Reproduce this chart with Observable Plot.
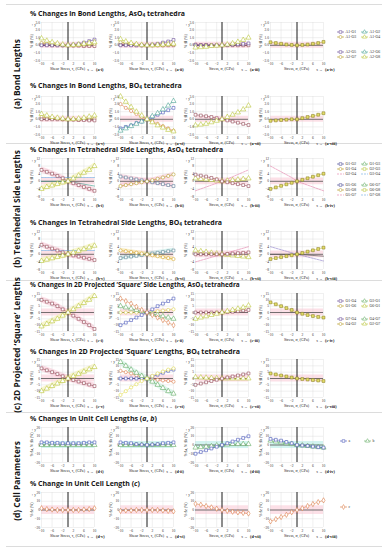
<!DOCTYPE html>
<html><head><meta charset="utf-8">
<script src="https://cdn.jsdelivr.net/npm/d3@7"></script>
<script src="https://cdn.jsdelivr.net/npm/@observablehq/plot@0.6"></script>
<style>
body{margin:0;background:#fff;}
#root{position:relative;width:387px;height:550px;overflow:hidden;font-family:"Open Sans",sans-serif;}
.title{position:absolute;font-weight:700;font-size:7.4px;white-space:nowrap;color:#151515;line-height:1;}
.title sub{font-size:0.68em;vertical-align:-0.15em;}
.sep{position:absolute;left:6px;width:376px;height:1px;background:#dcdcdc;}
.pan{position:absolute;}
</style></head>
<body><div id="root"></div>
<script>
// ---------- data ----------
const stress = [-10,-8,-6,-4,-2,0,2,4,6,8,10];
const sectionLabels = ["(a) Bond Lengths","(b) Tetrahedral Side Lengths","(c) 2D Projected \u2018Square\u2019 Lengths","(d) Cell Parameters"];
const rowTitles = [
 "% Changes in Bond Lengths, AsO<sub>4</sub> tetrahedra",
 "% Changes in Bond Lengths, BO<sub>4</sub> tetrahedra",
 "% Changes in Tetrahedral Side Lengths, AsO<sub>4</sub> tetrahedra",
 "% Changes in Tetrahedral Side Lengths, BO<sub>4</sub> tetrahedra",
 "% Changes in 2D Projected \u2018Square\u2019 Side Lengths, AsO<sub>4</sub> tetrahedra",
 "% Changes in 2D Projected \u2018Square\u2019 Lengths, BO<sub>4</sub> tetrahedra",
 "% Changes in Unit Cell Lengths (<i>a</i>, <i>b</i>)",
 "% Change in Unit Cell Length (<i>c</i>)"
];
const romans = ["i","ii","iii","iv","v","vi","vii","viii"];
const yTicksA = [-2,-1,0,1,2,3];
const yTicksB = [-8,-4,0,4,8,12];
const yTicksC = [-15,-10,-5,0,5,10,15];
const yTicksD = [-20,-10,0,10,20];
const xTicks = [-10,-6,-2,2,6,10];
const legA1 = ["A1-O1","A1-O2","A1-O3","A1-O4"];
const legA2 = ["A2-O5","A2-O6","A2-O7","A2-O8"];
const legB1 = ["O1-O2","O1-O3","O1-O4","O2-O3","O2-O4","O3-O4"];
const legB2 = ["O5-O6","O6-O7","O5-O8","O6-O8","O5-O7","O7-O8"];
const legC1 = ["O1-O4","O3-O1","O1-O6","O6-O1"];
const legC2 = ["O7-O4","O4-O7","O4-O2","O2-O7"];
const legD1 = ["a","b"];
const legD2 = ["c"];

// (a) bond lengths
const ai_1 = [0.0,0.0,0.0,0.0,0.0,0.0,0.1,0.2,0.35,0.55,0.75];
const ai_2 = [0.3,0.2,0.1,0.05,0.0,0.0,0.0,0.05,0.1,0.15,0.2];
const ai_3 = [0.05,0.05,0.0,0.0,0.0,0.0,-0.05,-0.05,-0.1,-0.1,-0.1];
const ai_4 = [0.9,0.6,0.4,0.25,0.1,0.0,0.05,0.1,0.2,0.3,0.4];
const aii_1 = [0.0,0.0,0.0,0.0,0.0,0.0,0.1,0.2,0.35,0.5,0.7];
const aii_2 = [0.4,0.3,0.2,0.1,0.0,0.0,0.0,0.0,0.0,0.05,0.1];
const aii_3 = [0.1,0.1,0.05,0.0,0.0,0.0,0.0,0.0,0.0,0.0,0.0];
const aii_4 = [0.8,0.5,0.3,0.15,0.05,0.0,0.0,0.05,0.1,0.15,0.2];
const aiii_1 = [0.0,0.0,0.0,0.0,0.0,0.0,0.05,0.1,0.15,0.2,0.25];
const aiii_3 = [0.1,0.05,0.05,0.0,0.0,0.0,0.0,0.0,0.0,0.0,0.0];
const aiii_4 = [-0.3,-0.25,-0.2,-0.1,-0.05,0.0,0.1,0.25,0.45,0.7,1.0];
const aiv_1 = [0.4,0.3,0.2,0.1,0.05,0.0,0.05,0.1,0.2,0.3,0.45];
const av_1 = [0.0,0.0,0.0,0.0,0.0,0.0,-0.05,-0.1,-0.1,-0.15,-0.15];
const av_2 = [0.3,0.2,0.1,0.05,0.0,0.0,0.0,0.0,0.05,0.05,0.1];
const av_4 = [0.7,0.5,0.3,0.2,0.1,0.0,0.05,0.1,0.2,0.35,0.5];
const avi_1 = [-1.2,-1.0,-0.8,-0.5,-0.3,0.0,0.3,0.6,0.9,1.2,1.5];
const avi_2 = [-1.5,-1.2,-0.9,-0.6,-0.3,0.0,0.4,0.8,1.3,1.8,2.4];
const avi_3 = [2.0,1.5,1.1,0.7,0.3,0.0,-0.3,-0.6,-0.9,-1.2,-1.5];
const avi_4 = [3.0,2.3,1.6,1.0,0.5,0.0,-0.4,-0.8,-1.1,-1.4,-1.6];
const avii_1 = [0.6,0.5,0.4,0.3,0.15,0.0,-0.15,-0.3,-0.45,-0.6,-0.75];
const avii_4 = [-0.8,-0.7,-0.6,-0.4,-0.2,0.0,0.3,0.6,0.9,1.3,1.8];
const aviii_1 = [-0.2,-0.15,-0.1,-0.05,0.0,0.0,0.15,0.3,0.45,0.6,0.8];
// (b) tetrahedral side lengths
const bi_1 = [6,5,4,2.8,1.6,0,-1,-2,-3,-4,-5];
const bi_2 = [-4,-3,-2.2,-1.4,-0.6,0,1.5,3,4.5,6,8];
const bi_3 = [0,0,0,0,0,0,-0.5,-1,-1.5,-2,-2.5];
const bi_4 = [2,2,2,2,2,2,2,2,2,2,2];
const bii_1 = [2.5,2,1.5,1,0.5,0,-0.5,-1,-1.5,-2,-2.5];
const bii_2 = [-2.5,-2,-1.5,-1,-0.5,0,0.6,1.3,2,2.8,3.6];
const biii_1 = [3.5,3,2.5,1.8,1,0,-0.5,-1,-1.5,-2,-2.5];
const biii_2 = [1.5,1.2,1,0.7,0.4,0,0.3,0.6,0.9,1.2,1.5];
const biii_3 = [-5,-4,-3,-2,-1,0,1.2,2.4,3.6,4.8,6];
const biv_1 = [-4,-3.2,-2.4,-1.6,-0.8,0,0.8,1.6,2.4,3.2,4];
const biv_3 = [8,6.5,5,3.5,2,0,-1,-2,-3,-4,-5];
const bv_1 = [5,4,3,2,1,0,-0.6,-1.2,-1.8,-2.4,-3];
const bv_2 = [-3.5,-2.8,-2.1,-1.4,-0.7,0,0.9,1.8,2.7,3.6,4.5];
const bv_3 = [2,2,2,2,2,2,2,2,2,2,2];
const bvi_1 = [-2,-1.6,-1.2,-0.8,-0.4,0,0.4,0.8,1.2,1.6,2];
const bvi_2 = [2,1.6,1.2,0.8,0.4,0,-0.5,-1,-1.5,-2,-2.5];
const bvii_1 = [0,0,0,0,0,0,0.2,0.4,0.6,0.8,1];
const bvii_2 = [2,1.6,1.2,0.8,0.4,0,-0.3,-0.6,-0.9,-1.2,-1.5];
const bvii_3 = [-4,-3.2,-2.4,-1.6,-0.8,0,0.8,1.6,2.4,3.2,4];
const bviii_1 = [-2.5,-2,-1.5,-1,-0.5,0,0.7,1.4,2.1,2.8,3.5];
const bviii_3 = [4,3.2,2.4,1.6,0.8,0,-0.7,-1.4,-2.1,-2.8,-3.5];
const bviii_4 = [0,0,0,0,0,0,-0.2,-0.4,-0.6,-0.8,-1];
// (c) projected square lengths
const ci_1 = [10,8.5,7,5,2.5,0,-2.5,-5,-7.5,-10,-13];
const ci_2 = [-11,-9,-7,-5,-2.5,0,2.5,5,7.5,10,13];
const cii_1 = [-10,-8,-6,-4,-2,0,2.5,5,7,9,11];
const cii_2 = [11,9,7,4.5,2,0,-2,-4,-6,-8,-10];
const cii_3 = [5,4,3,2,1,0,-1,-2,-3,-4,-5];
const cii_4 = [0,0,0,0,0,0,0.5,1,1.5,2,2.5];
const ciii_1 = [0,0,0,0,0,0,0.3,0.6,1,1.5,2];
const ciii_2 = [-5,-4,-3,-2,-1,0,1,2,3,4,5.5];
const civ_1 = [8,6.5,5,3.5,2,0,-1,-2,-2.8,-3.5,-4];
const cv_1 = [8,6.5,5,3.5,1.8,0,-1.2,-2.4,-3.6,-4.8,-6];
const cv_2 = [-10,-8,-6,-4,-2,0,1.8,3.6,5.4,7.2,9];
const cvi_1 = [0,0,0,0,0,0,1.5,3,4.5,6,7];
const cvi_2 = [6,5,4,2.5,1,0,-0.5,-1,-1.5,-2,-2.5];
const cvi_3 = [13,10,7,4.5,2,0,-2.5,-5,-7.5,-10,-12];
const cvi_4 = [-13,-10,-7,-4.5,-2,0,2,4,5.5,7,8];
const cvii_1 = [-5,-4,-3,-2,-1,0,0.8,1.6,2.4,3.2,4];
const cvii_2 = [1,0.8,0.6,0.4,0.2,0,0,0,0,0,0];
const cviii_1 = [4,3.2,2.4,1.6,0.8,0,-0.4,-0.8,-1.2,-1.6,-2];
// (d) cell parameters
const di_a = [3,3,2.5,2.5,2,2,2,2,2.5,3,3];
const di_b = [0,0,0,0,0,0,0,0,0,0,0];
const dii_a = [3,2.5,2,1,0.5,0,0.5,1,2,2.5,3];
const dii_b = [0,0,0,0,0,0,0,0,0,0,0];
const diii_a = [-10,-8,-6,-4,-2,0,2,4,6,8,10];
const diii_b = [-3,-2.5,-2,-1.5,-0.5,0,0.5,1,1,1,1];
const div_a = [7,6,5,3.5,2,0,-0.5,-1,-1.8,-2.5,-3];
const div_b = [5,4,3,2,1,0,-0.6,-1.2,-1.8,-2.4,-3];
const dv_c = [2,1,0.5,0,0,0,0,0,0.5,1,2];
const dvi_c = [-1,-0.5,-0.5,0,0,0,0,0,-0.5,-1,-1.5];
const dvii_c = [7,6,4.5,3,1.5,0,-1,-2,-2.7,-3.4,-4];
const dviii_c = [-13,-10.5,-8,-5.5,-2.5,0,2,4.5,6.8,9,11];

// ---------- styles ----------
const C = {purple:"#5c3d8f", teal:"#3a9a8a", olive:"#b2961c", yg:"#b4c02a", brown:"#8c3a4a",
  blue:"#3f4db5", orange:"#d9743c", green:"#58a658", pink:"#e27aa6", gold:"#c9c23a", lblue:"#6aa8e0", dark:"#444"};
function S(v,c,s,o={}){return Object.assign({v,c,s},o);}
const GOLD = {fill:"#e4df6a",stroke:"#8a7d22"};

const panels = [
 [ [S(ai_3,C.brown,"square"),S(ai_2,C.olive,"circle"),S(ai_1,C.purple,"square"),S(ai_4,C.yg,"triangle")],
   [S(aii_3,C.brown,"square"),S(aii_2,C.olive,"circle"),S(aii_1,C.purple,"square"),S(aii_4,C.yg,"triangle")],
   [S(aiii_3,C.brown,"square"),S(aiii_1,C.purple,"square"),S(aiii_4,C.yg,"triangle")],
   [S(aiv_1,C.gold,"square",GOLD)] ],
 [ [S(av_2,C.olive,"circle"),S(av_1,C.brown,"square"),S(av_4,C.yg,"triangle")],
   [S(avi_1,C.blue,"square"),S(avi_2,C.teal,"triangle"),S(avi_3,C.orange,"circle"),S(avi_4,C.yg,"triangle")],
   [S(avii_1,C.brown,"square"),S(avii_4,C.yg,"triangle")],
   [S(aviii_1,C.gold,"square",GOLD)] ],
 [ [S(bi_4,C.lblue,null,{dash:"2,1"}),S(bi_3,C.teal,null),S(bi_1,C.brown,"square",{band:1.6}),S(bi_2,C.yg,"triangle",{band:1.6})],
   [S(bii_1,"#4f6f8f","square",{band:1.2}),S(bii_2,C.olive,"circle",{band:1.2})],
   [S(biii_3,C.pink,null,{dash:"2,1"}),S(biii_2,C.yg,"triangle"),S(biii_1,C.brown,"square")],
   [S(biv_3,C.pink,null,{dash:"2,1"}),S(biv_1,C.gold,"square",GOLD)] ],
 [ [S(bv_3,C.lblue,null,{dash:"2,1"}),S(bv_1,C.brown,"square",{band:1.6}),S(bv_2,C.yg,"triangle",{band:1.6})],
   [S(bvi_1,"#4f7f8f","square",{band:1.2,bandColor:"#bfeae4"}),S(bvi_2,"#d0a020","circle",{band:1.2,bandColor:"#f5e3a0"})],
   [S(bvii_3,C.pink,null,{dash:"2,1"}),S(bvii_2,C.yg,"triangle"),S(bvii_1,C.brown,"square")],
   [S(bviii_3,"#8a7ac8",null,{dash:"2,1"}),S(bviii_4,C.dark,null),S(bviii_1,C.gold,"square",GOLD)] ],
 [ [S(ci_1,C.brown,"square",{band:2.5}),S(ci_2,C.yg,"triangle",{band:2.5})],
   [S(cii_4,"#d8d040","circle"),S(cii_3,C.green,"triangle"),S(cii_1,C.blue,"square"),S(cii_2,C.orange,"diamond")],
   [S(ciii_1,C.brown,"square"),S(ciii_2,C.yg,"triangle")],
   [S(civ_1,C.gold,"square",GOLD)] ],
 [ [S(cv_1,C.brown,"square",{band:2.5}),S(cv_2,C.yg,"triangle",{band:2.5})],
   [S(cvi_2,C.orange,"circle"),S(cvi_1,C.blue,"square"),S(cvi_3,C.green,"triangle",{band:2.5,bandColor:"#c8f0e0"}),S(cvi_4,"#e0d840","circle")],
   [S(cvii_2,C.yg,"triangle"),S(cvii_1,C.brown,"square")],
   [S(cviii_1,C.gold,"square",GOLD)] ],
 [ [S(di_b,C.green,"triangle"),S(di_a,C.blue,"square")],
   [S(dii_b,C.green,"triangle"),S(dii_a,C.blue,"square")],
   [S(diii_b,C.green,"triangle"),S(diii_a,C.blue,"square")],
   [S(div_b,C.green,"triangle"),S(div_a,C.blue,"square")] ],
 [ [S(dv_c,C.orange,"diamond")],[S(dvi_c,C.orange,"diamond")],[S(dvii_c,C.orange,"diamond")],[S(dviii_c,C.orange,"diamond")] ]
];

const rowTop = [22,96,158,231,293,359,427,492];
const titleTop = [11,82,147,219,282,348,415,480];
const titleRight = [185,182,223,222,240,240,157,140];
const colLeft = [41,120,195,270];
const PW = 53;
const yCfg = [
 {d:[-2,3],t:yTicksA,band:0.4},{d:[-2,3],t:yTicksA,band:0.4},
 {d:[-8,12],t:yTicksB,band:1.8},{d:[-8,12],t:yTicksB,band:1.8},
 {d:[-15,15],t:yTicksC,band:2.8},{d:[-15,15],t:yTicksC,band:2.8},
 {d:[-20,20],t:yTicksD,band:4,bc:"#c4f0ec"},{d:[-20,20],t:yTicksD,band:5}
];
const yLabels = ["% \u0394l (%)","% \u0394l (%)","% \u0394l (%)","% \u0394l (%)","% \u0394l (%)","% \u0394l (%)","% \u0394a, % \u0394b (%)","% \u0394c (%)"];
const secLetter = ["a","a","b","b","c","c","d","d"];

const root = document.getElementById("root");
[4,143,280,412,546].forEach(y=>{const d=document.createElement("div");d.className="sep";d.style.top=y+"px";root.appendChild(d);});

const secCenters = [74,209,345,481];
const secSvg = d3.select(root).append("svg").attr("width",387).attr("height",550).style("position","absolute").style("left",0).style("top",0);
sectionLabels.forEach((t,i)=>{
  secSvg.append("text").attr("transform",`translate(20,${secCenters[i]}) rotate(-90)`)
   .attr("text-anchor","middle").attr("font-family","Open Sans").attr("font-weight",700).attr("font-size",8.4).attr("fill","#151515").text(t);
});

// titles, sized to the reference widths
rowTitles.forEach((t,i)=>{
  const d=document.createElement("div");d.className="title";d.style.left="30px";d.style.top=titleTop[i]+"px";d.innerHTML=t;root.appendChild(d);
  const w=d.getBoundingClientRect().width; const fs=Math.min(8.6,7.4*(titleRight[i]-30)/w); d.style.fontSize=fs+"px";
  d.style.top=(titleTop[i]-(fs-7.4)*0.5)+"px";
});

const ML=13, MR=2, MT=2, MB=13;
panels.forEach((row,r)=>{
  const yc = yCfg[r];
  const PH = r>=6 ? 35 : 38;
  row.forEach((series,c)=>{
    const marks = [];
    marks.push(Plot.areaY(stress,{x:d=>d,y1:-yc.band,y2:yc.band,fill:yc.bc||"#fbd6df",fillOpacity:0.75}));
    series.forEach(s=>{
      if(s.band){
        const data = stress.map((x,i)=>({x,y:s.v[i]}));
        marks.push(Plot.areaY(data,{x:"x",y1:d=>d.y-s.band,y2:d=>d.y+s.band,fill:s.bandColor||(s.c===C.yg?"#f3f0b0":"#f8c8d6"),fillOpacity:0.6}));
      }
    });
    marks.push(Plot.gridX(xTicks,{stroke:"#d8d8d8",strokeOpacity:1,strokeWidth:0.4}));
    marks.push(Plot.gridY(yc.t,{stroke:"#d8d8d8",strokeOpacity:1,strokeWidth:0.4}));
    marks.push(Plot.ruleY([0],{stroke:"#222",strokeWidth:0.6}));
    marks.push(Plot.ruleX([0],{stroke:"#000",strokeWidth:0.9}));
    series.forEach(s=>{
      const data = stress.map((x,i)=>({x,y:s.v[i]}));
      marks.push(Plot.line(data,{x:"x",y:"y",stroke:s.c,strokeWidth:s.s?0.5:0.6,strokeDasharray:s.dash||null}));
      if(s.s) marks.push(Plot.dot(data,{x:"x",y:"y",symbol:s.s,r:s.s==="triangle"?1.9:1.6,stroke:s.stroke||s.c,strokeWidth:0.55,fill:s.fill||"white"}));
    });
    marks.push(Plot.axisX({ticks:xTicks,tickSize:0,tickPadding:1.5,fontSize:3.6,fill:"#333"}));
    marks.push(Plot.axisY({ticks:yc.t,tickSize:0,tickPadding:1.5,fontSize:3.6,fill:"#333"}));
    const p = Plot.plot({
      width: PW+ML+MR, height: PH+MT+MB, marginLeft:ML, marginRight:MR, marginTop:MT, marginBottom:MB,
      x:{domain:[-10,10]}, y:{domain:yc.d}, style:{fontFamily:"Liberation Serif",background:"transparent",overflow:"visible"},
      marks
    });
    const svg = d3.select(p);
    const xl = (c<2) ? "Shear Stress, \u03C4" : "Stress, \u03C3";
    const t = svg.append("text").attr("x",ML+PW/2).attr("y",MT+PH+10).attr("text-anchor","middle").attr("font-size",4).attr("font-family","Liberation Serif").attr("fill","#222");
    t.append("tspan").text(xl);
    t.append("tspan").attr("font-size",2.8).attr("dy",0.8).text(c<2?"s":"i");
    t.append("tspan").attr("dy",-0.8).text(" (GPa)");
    svg.append("text").attr("x",ML+PW+2).attr("y",MT+PH+10.5).attr("text-anchor","start").attr("font-size",4.2).attr("font-weight",700).attr("font-family","Liberation Serif").attr("fill","#111")
      .text(`(${secLetter[r]}-${romans[(r%2)*4+c]})`);
    svg.append("text").attr("transform",`translate(${ML-8},${MT+PH/2}) rotate(-90)`).attr("text-anchor","middle").attr("font-size",3.6).attr("font-family","Liberation Serif").attr("fill","#222").text(yLabels[r]);
    p.classList.add("pan");
    p.style.left=(colLeft[c]-ML)+"px"; p.style.top=(rowTop[r]-MT)+"px";
    root.appendChild(p);
  });
});

function legend(x,y,names,styles,cols){
  const g = secSvg.append("g").attr("transform",`translate(${x},${y})`);
  names.forEach((n,i)=>{
    const cx = (i%cols)*24, cy = Math.floor(i/cols)*5;
    const st = styles[i];
    g.append("line").attr("x1",cx).attr("x2",cx+7).attr("y1",cy).attr("y2",cy).attr("stroke",st.c).attr("stroke-width",0.6).attr("stroke-dasharray",st.dash||null);
    if(st.s){
      const sym = {square:d3.symbolSquare,triangle:d3.symbolTriangle,circle:d3.symbolCircle,diamond:d3.symbolDiamond}[st.s];
      g.append("path").attr("d",d3.symbol(sym,7)()).attr("transform",`translate(${cx+3.5},${cy})`).attr("fill",st.fill||"white").attr("stroke",st.c).attr("stroke-width",0.5);
    }
    g.append("text").attr("x",cx+8.5).attr("y",cy+1.3).attr("font-size",3.8).attr("font-family","Liberation Serif").attr("fill","#333").text(n);
  });
}
const stA = [{c:C.purple,s:"square"},{c:C.teal,s:"triangle"},{c:C.olive,s:"circle"},{c:C.yg,s:"triangle"}];
legend(337,32,legA1,stA,2);
legend(337,52,legA2,stA,2);
const stB = [{c:"#3a3a8a",s:"square"},{c:C.green,s:"triangle"},{c:C.olive,s:"circle"},{c:C.yg,s:"square"},{c:C.pink,dash:"2,1"},{c:C.lblue,dash:"2,1"}];
legend(337,164,legB1,stB,2);
legend(337,185,legB2,stB,2);
const stC = [{c:C.purple,s:"square"},{c:C.green,s:"triangle"},{c:C.olive,s:"circle"},{c:C.yg,s:"triangle"}];
legend(337,301,legC1,stC,2);
legend(337,319,legC2,stC,2);
legend(340,441,legD1,[{c:C.blue,s:"square"},{c:C.green,s:"triangle"}],2);
legend(340,507,legD2,[{c:C.orange,s:"diamond"}],1);
</script></body></html>
